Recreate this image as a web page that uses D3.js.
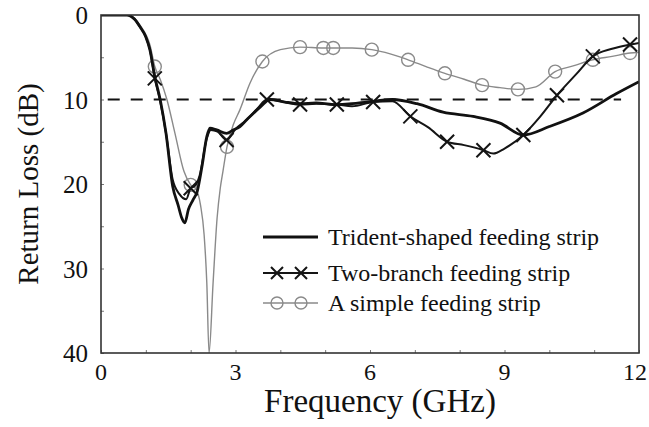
<!DOCTYPE html>
<html>
<head>
<meta charset="utf-8">
<script src="https://cdn.jsdelivr.net/npm/d3@7"></script>
<style>
  body { margin: 0; background: #fff; }
  svg { display: block; }
</style>
</head>
<body>
<div id="chart"></div>
<script>
// Return loss curves (GHz, dB)
const tridentFreq = [0, 0.3, 0.58, 0.75, 0.87, 1.0, 1.09, 1.2, 1.32, 1.45, 1.6, 1.72, 1.8, 1.87, 1.95, 2.05, 2.15, 2.25, 2.36, 2.43, 2.58, 2.8, 2.95, 3.1, 3.25, 3.55, 3.77, 4.1, 4.44, 4.8, 5.18, 5.6, 5.93, 6.5, 7.05, 7.63, 8.3, 8.9, 9.42, 10.0, 10.75, 11.5, 12];
const tridentLoss = [0, 0, 0, 0.5, 1.4, 2.6, 4.1, 7.3, 10, 14, 20.3, 22.5, 24, 24.6, 23, 21.9, 20.8, 18, 14.4, 13.4, 13.6, 14, 13.6, 13.2, 12.4, 10.9, 10, 10.3, 10.5, 10.4, 10.6, 10.5, 10.3, 10, 10.5, 11.5, 12, 12.8, 14.2, 13.2, 11.6, 9.3, 7.9];

const twoBranchFreq = [0, 0.3, 0.58, 0.75, 0.87, 1.0, 1.09, 1.2, 1.32, 1.45, 1.6, 1.75, 1.9, 2.0, 2.1, 2.2, 2.36, 2.45, 2.6, 2.8, 3.0, 3.25, 3.5, 3.7, 4.0, 4.44, 4.8, 5.26, 5.6, 6.07, 6.5, 6.9, 7.3, 7.72, 8.1, 8.53, 8.75, 9.0, 9.42, 9.8, 10.17, 10.6, 10.97, 11.4, 11.8, 12];
const twoBranchLoss = [0, 0, 0, 0.5, 1.4, 2.6, 4.1, 7.5, 10.2, 14, 19.5, 21.2, 21.8, 20.5, 20.2, 19, 14.6, 13.6, 13.8, 14.8, 13.5, 12.4, 11, 10, 10.2, 10.6, 10.5, 10.6, 10.8, 10.3, 10.2, 12, 13.3, 15, 15.4, 16, 16.4, 15.8, 14.2, 12, 9.5, 7, 4.9, 4, 3.5, 3.3];
const twoBranchMarks = [1.2, 2.0, 2.8, 3.7, 4.44, 5.26, 6.07, 6.9, 7.72, 8.53, 9.42, 10.17, 10.97, 11.8];

const simpleFreq = [0, 0.3, 0.58, 0.75, 0.87, 1.0, 1.09, 1.2, 1.32, 1.47, 1.65, 1.85, 2.0, 2.12, 2.22, 2.3, 2.36, 2.41, 2.5, 2.59, 2.66, 2.72, 2.81, 2.95, 3.1, 3.32, 3.6, 4.0, 4.44, 4.96, 5.18, 5.6, 6.04, 6.45, 6.85, 7.25, 7.67, 8.1, 8.5, 8.9, 9.3, 9.7, 10.13, 10.55, 10.97, 11.4, 11.8, 12];
const simpleLoss = [0, 0, 0, 0.4, 1.2, 2.3, 3.5, 6.1, 7.6, 10, 14, 18.5, 20.1, 20.6, 22.5, 26, 31.7, 40, 31.7, 24, 20.5, 18.5, 15.6, 13, 11.2, 8.1, 5.5, 4.1, 3.8, 3.9, 3.9, 3.9, 4.1, 4.6, 5.3, 6.1, 6.9, 7.6, 8.3, 8.6, 8.8, 8.5, 6.7, 6.0, 5.3, 4.9, 4.5, 4.4];
const simpleMarks = [1.2, 2.0, 2.81, 3.6, 4.44, 4.96, 5.18, 6.04, 6.85, 7.67, 8.5, 9.3, 10.13, 10.97, 11.8];

const xTicks = [0, 3, 6, 9, 12];
const yTicks = [0, 10, 20, 30, 40];
const legendLabels = ["Trident-shaped feeding strip", "Two-branch feeding strip", "A simple feeding strip"];
const threshold = 10;

const W = 649, H = 427;
const margin = { left: 101, right: 10, top: 15, bottom: 74 };
const grey = "#8a8a8a";
const font = "'Liberation Serif', 'Times New Roman', serif";

const svg = d3.select("#chart").append("svg")
    .attr("width", W)
    .attr("height", H);

const x = d3.scaleLinear().domain([0, 12]).range([margin.left, W - margin.right]);
const y = d3.scaleLinear().domain([0, 40]).range([margin.top, H - margin.bottom]);

// clip so the deep notch stops at the frame
svg.append("clipPath").attr("id", "plotClip")
    .append("rect")
    .attr("x", x(0)).attr("y", y(0))
    .attr("width", x(12) - x(0)).attr("height", y(40) - y(0));

const zip = (a, b) => a.map((v, i) => [v, b[i]]);
const line = d3.line()
    .x((d) => x(d[0]))
    .y((d) => y(d[1]))
    .curve(d3.curveMonotoneX);

// axes (ticks drawn inward)
svg.append("g")
    .attr("transform", `translate(0,${y(40)})`)
    .call(d3.axisBottom(x).tickValues(d3.range(0, 12.01, 1)).tickSize(-3).tickFormat(""))
    .call((g) => g.select(".domain").remove())
    .call((g) => g.selectAll("line").attr("stroke", "#777"));

svg.append("g")
    .attr("transform", `translate(${x(0)},0)`)
    .call(d3.axisLeft(y).tickValues(d3.range(0, 40.01, 5)).tickSize(-3).tickFormat(""))
    .call((g) => g.select(".domain").remove())
    .call((g) => g.selectAll("line").attr("stroke", "#777"));

// tick labels (last one nudged in so it stays on the page)
svg.append("g").selectAll("text")
    .data(xTicks)
    .join("text")
    .attr("x", (d) => Math.min(x(d), W - 14))
    .attr("y", 380)
    .attr("text-anchor", "middle")
    .attr("font-family", font)
    .attr("font-size", 24)
    .attr("fill", "#111")
    .text((d) => d);

svg.append("g").selectAll("text")
    .data(yTicks)
    .join("text")
    .attr("x", 88)
    .attr("y", (d) => y(d) + 9)
    .attr("text-anchor", "end")
    .attr("font-family", font)
    .attr("font-size", 25)
    .attr("fill", "#111")
    .text((d) => d);

// axis titles
svg.append("text")
    .attr("x", 380)
    .attr("y", 412)
    .attr("text-anchor", "middle")
    .attr("font-family", font)
    .attr("font-size", 33)
    .attr("fill", "#111")
    .text("Frequency (GHz)");

svg.append("text")
    .attr("transform", `translate(38,${(y(0) + y(40)) / 2}) rotate(-90)`)
    .attr("text-anchor", "middle")
    .attr("font-family", font)
    .attr("font-size", 29)
    .attr("fill", "#111")
    .text("Return Loss (dB)");

// -10 dB reference
svg.append("line")
    .attr("x1", x(0.15)).attr("x2", x(11.6))
    .attr("y1", y(threshold)).attr("y2", y(threshold))
    .attr("stroke", "#111")
    .attr("stroke-width", 2)
    .attr("stroke-dasharray", "12,11");

const plot = svg.append("g").attr("clip-path", "url(#plotClip)");

// simple feeding strip (grey, circles)
plot.append("path")
    .datum(zip(simpleFreq, simpleLoss))
    .attr("fill", "none")
    .attr("stroke", grey)
    .attr("stroke-width", 1.4)
    .attr("d", line);

const simpleLookup = new Map(simpleFreq.map((f, i) => [f, simpleLoss[i]]));
plot.selectAll(".circ")
    .data(simpleMarks)
    .join("circle")
    .attr("class", "circ")
    .attr("cx", (d) => x(d))
    .attr("cy", (d) => y(simpleLookup.get(d)))
    .attr("r", 6.5)
    .attr("fill", "none")
    .attr("stroke", grey)
    .attr("stroke-width", 1.4);

// two-branch (black, crosses)
plot.append("path")
    .datum(zip(twoBranchFreq, twoBranchLoss))
    .attr("fill", "none")
    .attr("stroke", "#151515")
    .attr("stroke-width", 2)
    .attr("d", line);

const twoLookup = new Map(twoBranchFreq.map((f, i) => [f, twoBranchLoss[i]]));
const cross = (s) => `M${-s},${-s}L${s},${s}M${-s},${s}L${s},${-s}`;
plot.selectAll(".cross")
    .data(twoBranchMarks)
    .join("path")
    .attr("class", "cross")
    .attr("transform", (d) => `translate(${x(d)},${y(twoLookup.get(d))})`)
    .attr("d", cross(7))
    .attr("stroke", "#151515")
    .attr("stroke-width", 2);

// trident (thick black)
plot.append("path")
    .datum(zip(tridentFreq, tridentLoss))
    .attr("fill", "none")
    .attr("stroke", "#111")
    .attr("stroke-width", 2.8)
    .attr("d", line);

// frame
svg.append("rect")
    .attr("x", x(0)).attr("y", y(0))
    .attr("width", x(12) - x(0)).attr("height", y(40) - y(0))
    .attr("fill", "none")
    .attr("stroke", "#333")
    .attr("stroke-width", 1.6);

// legend
const legend = svg.append("g").attr("transform", "translate(263,0)");
const rowY = [237, 273, 303];

legendLabels.forEach((label, i) => {
    const row = legend.append("g").attr("transform", `translate(0,${rowY[i]})`);
    if (i === 0) {
        row.append("line").attr("x1", 0).attr("x2", 55)
            .attr("stroke", "#111").attr("stroke-width", 2.8);
    } else if (i === 1) {
        row.append("line").attr("x1", 0).attr("x2", 55)
            .attr("stroke", "#151515").attr("stroke-width", 2);
        [14, 38].forEach((cx) => row.append("path")
            .attr("transform", `translate(${cx},0)`)
            .attr("d", cross(6))
            .attr("stroke", "#151515").attr("stroke-width", 2));
    } else {
        row.append("line").attr("x1", 0).attr("x2", 55)
            .attr("stroke", grey).attr("stroke-width", 1.4);
        [14, 38].forEach((cx) => row.append("circle")
            .attr("cx", cx).attr("r", 6)
            .attr("fill", "none").attr("stroke", grey).attr("stroke-width", 1.4));
    }
    row.append("text")
        .attr("x", 65)
        .attr("y", 8)
        .attr("font-family", font)
        .attr("font-size", 24)
        .attr("fill", "#111")
        .text(label);
});
</script>
</body>
</html>
